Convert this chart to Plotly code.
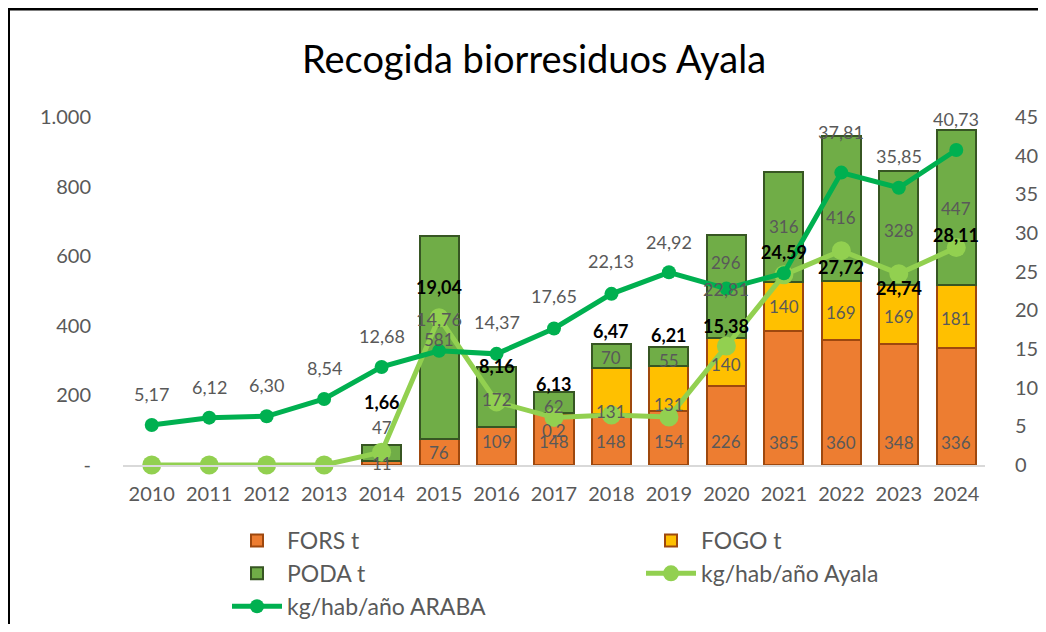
import plotly.graph_objects as go
from plotly.subplots import make_subplots

years = [str(y) for y in range(2010, 2025)]
fors = [0, 0, 0, 0, 11, 76, 109, 148, 148, 154, 226, 385, 360, 348, 336]
fogo = [0, 0, 0, 0, 0, 0, 0, 0.2, 131, 131, 140, 140, 169, 169, 181]
poda = [0, 0, 0, 0, 47, 581, 172, 62, 70, 55, 296, 316, 416, 328, 447]
ayala = [0, 0, 0, 0, 1.66, 19.04, 8.16, 6.13, 6.47, 6.21, 15.38, 24.59, 27.72, 24.74, 28.11]
araba = [5.17, 6.12, 6.30, 8.54, 12.68, 14.76, 14.37, 17.65, 22.13, 24.92, 22.81, 24.8, 37.81, 35.85, 40.73]
left_ticks = [0, 200, 400, 600, 800, 1000]
left_ticktext = ["-", "200", "400", "600", "800", "1.000"]

# label placement: pixel offsets of the data labels (style only)
ayala_label_shift = [0, 0, 0, 0, 50, 31, 36, 34, 84, 82, 20, 23, -16, -14, 13]
araba_label_shift = [31, 31, 31, 31, 31, 32, 32, 33, 33, 30, 0, None, 41, 32, 31]
fors_label_shift = [0, 0, 0, 0, 2, 13, 24, 24, 24, 24, 24, 23, 23, 23, 23]      # from bar base
fogo_label_shift = [0, 0, 0, 0, 0, 0, 0, -17, -21, -16, -3, 0, -2, -2, -2]      # from segment centre
poda_label_shift = [0, 0, 0, 0, 25, -2, -2, -4, -2, -4, 24, 1, -9, -2, -1]      # from segment centre

FONT = "Lato, 'Open Sans', sans-serif"
GREY = "#595959"


def fmt_num(v):
    if v == int(v):
        return str(int(v))
    return f"{v:g}".replace(".", ",")


def fmt2(v):
    return f"{v:.2f}".replace(".", ",")


def nz(vals):
    return [v if v else None for v in vals]


fig = make_subplots(specs=[[{"secondary_y": True}]])

fig.add_trace(go.Bar(
    x=years, y=nz(fors), name="FORS t", legend="legend",
    marker=dict(color="#ED7D31", line=dict(color="#9E480E", width=2)),
), secondary_y=False)
fig.add_trace(go.Bar(
    x=years, y=nz(fogo), name="FOGO t", legend="legend2",
    marker=dict(color="#FFC000", line=dict(color="#9E480E", width=2)),
), secondary_y=False)
fig.add_trace(go.Bar(
    x=years, y=nz(poda), name="PODA t", legend="legend",
    marker=dict(color="#70AD47", line=dict(color="#375623", width=2)),
), secondary_y=False)
fig.add_trace(go.Scatter(
    x=years, y=ayala, name="kg/hab/año Ayala", mode="lines+markers", legend="legend2",
    cliponaxis=False,
    line=dict(color="#92D050", width=5), marker=dict(size=19, color="#92D050"),
), secondary_y=True)
fig.add_trace(go.Scatter(
    x=years, y=araba, name="kg/hab/año ARABA", mode="lines+markers", legend="legend",
    cliponaxis=False,
    line=dict(color="#00B050", width=5), marker=dict(size=14, color="#00B050"),
), secondary_y=True)

annotations = []
bar_font = dict(color=GREY, size=17, family=FONT)
for i in range(len(years)):
    if fors[i]:
        annotations.append(dict(x=i, y=0, xref="x", yref="y", text=fmt_num(fors[i]),
                                showarrow=False, yshift=fors_label_shift[i], font=bar_font))
    if fogo[i]:
        annotations.append(dict(x=i, y=fors[i] + fogo[i] / 2, xref="x", yref="y",
                                text=fmt_num(fogo[i]), showarrow=False,
                                yshift=fogo_label_shift[i], font=bar_font))
    if poda[i]:
        annotations.append(dict(x=i, y=fors[i] + fogo[i] + poda[i] / 2, xref="x", yref="y",
                                text=fmt_num(poda[i]), showarrow=False,
                                yshift=poda_label_shift[i], font=bar_font))
for i, (v, s) in enumerate(zip(araba, araba_label_shift)):
    if s is None:
        continue
    annotations.append(dict(x=i, y=v, xref="x", yref="y2", text=fmt2(v), showarrow=False,
                            yshift=s, font=dict(color=GREY, size=18, family=FONT)))
for i, (v, s) in enumerate(zip(ayala, ayala_label_shift)):
    if not v:
        continue
    annotations.append(dict(x=i, y=v, xref="x", yref="y2", text="<b>" + fmt2(v) + "</b>",
                            showarrow=False, yshift=s,
                            font=dict(color="black", size=18, family=FONT)))

legend_common = dict(orientation="v", xref="container", yref="container", yanchor="top",
                     xanchor="left", traceorder="normal", bgcolor="rgba(0,0,0,0)",
                     font=dict(size=23, color=GREY, family=FONT), itemwidth=50,
                     tracegroupgap=0)

W, H = 1030, 616
L, T, PW, PH = 115, 109, 862, 348

fig.update_layout(
    width=W, height=H,
    margin=dict(l=L, r=W - L - PW, t=T, b=H - T - PH, autoexpand=False),
    barmode="stack", bargap=0.32,
    separators=",.",
    paper_bgcolor="white", plot_bgcolor="white",
    font=dict(family=FONT, color=GREY, size=20),
    title=dict(text="Recogida biorresiduos Ayala", x=526 / W, xref="container", xanchor="center",
               y=1 - 52 / H, yref="container", yanchor="middle",
               font=dict(size=38, color="black", family=FONT)),
    legend=dict(x=219 / W, y=1 - 511 / H, **legend_common),
    legend2=dict(x=633 / W, y=1 - 511 / H, **legend_common),
    showlegend=True,
    annotations=annotations,
    shapes=[dict(type="rect", xref="paper", yref="paper",
                 x0=(0.5 - L) / PW, x1=(1045 - L) / PW,
                 y0=(T + PH - 640) / PH, y1=(T + PH - 1) / PH,
                 line=dict(color="black", width=3), fillcolor="rgba(0,0,0,0)", layer="below")],
)
fig.update_xaxes(type="category", showline=True, linecolor="#D9D9D9", linewidth=2, ticks="",
                 automargin=False, range=[-0.5, len(years) - 0.5], domain=[0, 1],
                 ticklabelstandoff=10, tickfont=dict(size=20, color=GREY), showgrid=False)
fig.update_yaxes(range=[0, 1000], tickvals=left_ticks, ticktext=left_ticktext, automargin=False,
                 showgrid=False, zeroline=False, tickfont=dict(size=20, color=GREY),
                 ticklabelstandoff=31, secondary_y=False)
fig.update_yaxes(range=[0, 45], dtick=5, showgrid=False, zeroline=False, automargin=False,
                 tickfont=dict(size=20, color=GREY), ticklabelstandoff=29, secondary_y=True)

fig.write_html("out.html")
